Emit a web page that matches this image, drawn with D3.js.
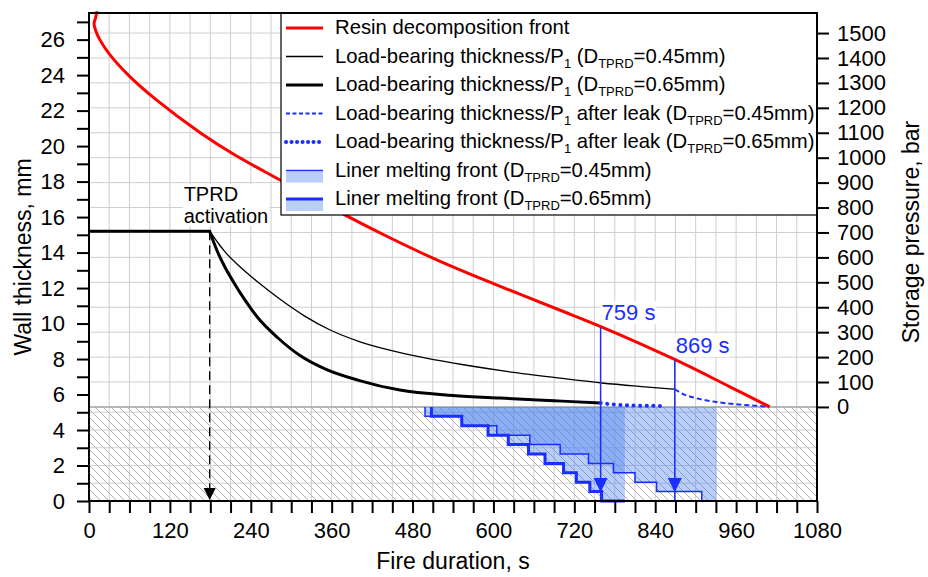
<!DOCTYPE html>
<html>
<head>
<meta charset="utf-8">
<script src="https://cdn.jsdelivr.net/npm/d3@7"></script>
<style>
  body { margin: 0; background: #fff; }
  svg { display: block; font-family: "Liberation Sans", Arial, sans-serif; }
</style>
</head>
<body>
<script>
// ---- data ----
const timeTicks = [0, 120, 240, 360, 480, 600, 720, 840, 960, 1080];
const thicknessTicks = [0, 2, 4, 6, 8, 10, 12, 14, 16, 18, 20, 22, 24, 26];
const pressureTicks = [0, 100, 200, 300, 400, 500, 600, 700, 800, 900, 1000, 1100, 1200, 1300, 1400, 1500];

// [s, mm]
const resinFront = [[12, 27.6], [9.5, 27.2], [7.5, 26.9], [10, 26.5], [16, 26.0], [30, 25.2], [61, 23.9],
  [100, 22.6], [165, 20.75], [214, 19.55], [283, 18.1], [383, 16.05], [447, 14.82], [520, 13.52], [600, 12.25],
  [699, 10.75], [761, 9.8], [872, 7.92], [950, 6.45], [1010, 5.3]];
const bearing045 = [[0, 15.2], [179, 15.2], [190, 14.62], [200, 14.12], [224, 13.2], [250, 12.35], [283, 11.38],
  [320, 10.42], [357, 9.65], [400, 9.0], [446, 8.5], [500, 8.05], [560, 7.65], [630, 7.25], [699, 6.92],
  [761, 6.65], [820, 6.45], [869, 6.3]];
const bearing065 = [[0, 15.2], [179, 15.2], [190, 14.1], [200, 13.3], [215, 12.3], [230, 11.4], [249, 10.4],
  [280, 9.2], [313, 8.2], [350, 7.45], [400, 6.8], [461, 6.25], [540, 5.95], [610, 5.8], [690, 5.65], [759, 5.52]];
const leak045 = [[869, 6.3], [880, 6.05], [900, 5.8], [931, 5.58], [960, 5.45], [995, 5.35], [1005, 5.32]];
const leak065 = [[759, 5.52], [780, 5.43], [810, 5.38], [847, 5.36]];
// liner melting front (steps)
const liner045 = [[498.5, 5.3], [498.5, 4.77], [553, 4.24], [605, 3.71], [654, 3.18], [699, 2.65], [741, 2.12],
  [778, 1.59], [810, 1.06], [842, 0.53], [909, 0], [931, 0]];
const liner065 = [[508, 5.3], [508, 4.77], [553, 4.24], [592, 3.71], [622, 3.18], [652, 2.65], [676.5, 2.12],
  [704, 1.59], [723, 1.06], [743, 0.53], [760.5, 0], [795, 0]];

const tprdTime = 179;
const tprdThickness = 15.2;
const leakTimes = [759, 869];
const leakTops = [9.8, 7.95];
const leakLabels = ["759 s", "869 s"];
const linerThickness = 5.3;       // 0 bar on right axis
const pressureTopThickness = 26.37; // 1500 bar on right axis

const legendLabels = [
  [["Resin decomposition front"]],
  [["Load-bearing thickness/P"], ["1", "sub"], [" (D"], ["TPRD", "sub"], ["=0.45mm)"]],
  [["Load-bearing thickness/P"], ["1", "sub"], [" (D"], ["TPRD", "sub"], ["=0.65mm)"]],
  [["Load-bearing thickness/P"], ["1", "sub"], [" after leak (D"], ["TPRD", "sub"], ["=0.45mm)"]],
  [["Load-bearing thickness/P"], ["1", "sub"], [" after leak (D"], ["TPRD", "sub"], ["=0.65mm)"]],
  [["Liner melting front (D"], ["TPRD", "sub"], ["=0.45mm)"]],
  [["Liner melting front (D"], ["TPRD", "sub"], ["=0.65mm)"]]
];

// ---- layout ----
const width = 928, height = 577;
const plotLeft = 89, plotRight = 817, plotTop = 13, plotBottom = 501;
const blue = "#1a2eff";
const gridColor = "#cfcfcf";

const svg = d3.select("body").append("svg")
  .attr("width", width).attr("height", height)
  .attr("viewBox", `0 0 ${width} ${height}`);

const x = d3.scaleLinear().domain([0, 1080]).range([plotLeft, plotRight]);
const y = d3.scaleLinear().domain([0, 27.5]).range([plotBottom, plotTop]);
const p = d3.scaleLinear().domain([0, 1500]).range([y(linerThickness), y(pressureTopThickness)]);

// hatch pattern
const defs = svg.append("defs");
defs.append("pattern")
  .attr("id", "hatch")
  .attr("patternUnits", "userSpaceOnUse")
  .attr("width", 8).attr("height", 8)
  .append("path")
  .attr("d", "M-2,-2 L10,10 M-2,6 L2,10 M6,-2 L10,2")
  .attr("stroke", "#b0b0b0")
  .attr("stroke-width", 1);

// hatched liner zone
svg.append("rect")
  .attr("x", plotLeft).attr("y", y(linerThickness))
  .attr("width", plotRight - plotLeft).attr("height", plotBottom - y(linerThickness))
  .attr("fill", "url(#hatch)");

// grid
const grid = svg.append("g").attr("stroke", gridColor).attr("stroke-width", 1);
grid.selectAll(".vg")
  .data(d3.range(30, 1080, 30))
  .enter().append("line")
  .attr("x1", d => x(d)).attr("x2", d => x(d))
  .attr("y1", plotTop).attr("y2", plotBottom);
grid.selectAll(".hp")
  .data(pressureTicks.filter(d => d > 0))
  .enter().append("line")
  .attr("x1", plotLeft).attr("x2", plotRight)
  .attr("y1", d => p(d)).attr("y2", d => p(d));
grid.selectAll(".hm")
  .data([1, 2, 3, 4, 5])
  .enter().append("line")
  .attr("x1", plotLeft).attr("x2", plotRight)
  .attr("y1", d => y(d)).attr("y2", d => y(d));

// top of hatch zone
svg.append("line")
  .attr("x1", plotLeft).attr("x2", plotRight)
  .attr("y1", y(linerThickness)).attr("y2", y(linerThickness))
  .attr("stroke", "#a0a0a0").attr("stroke-width", 1.5);

// liner melting fronts
const stepArea = d3.area()
  .curve(d3.curveStepAfter)
  .x(d => x(d[0]))
  .y0(y(linerThickness))
  .y1(d => y(d[1]));
const stepLine = d3.line()
  .curve(d3.curveStepAfter)
  .x(d => x(d[0])).y(d => y(d[1]));

[liner045, liner065].forEach(data => {
  svg.append("path")
    .attr("d", stepArea(data))
    .attr("fill", "rgb(70,125,240)")
    .attr("fill-opacity", 0.38);
});
svg.append("path").attr("d", stepLine(liner045))
  .attr("fill", "none").attr("stroke", blue).attr("stroke-width", 1.5);
svg.append("path").attr("d", stepLine(liner065))
  .attr("fill", "none").attr("stroke", blue).attr("stroke-width", 3);

// curves
const straight = d3.line().x(d => x(d[0])).y(d => y(d[1]));
const smooth = d3.line().curve(d3.curveMonotoneX).x(d => x(d[0])).y(d => y(d[1]));
const smoothRed = d3.line().curve(d3.curveCatmullRom.alpha(0.5)).x(d => x(d[0])).y(d => y(d[1]));

// flat part up to TPRD activation + decay after it (sharp corner at activation)
[[bearing045, 1.3], [bearing065, 3]].forEach(([data, w]) => {
  const k = data.findIndex(d => d[0] === tprdTime);
  svg.append("path")
    .attr("d", straight(data.slice(0, k + 1)) + smooth(data.slice(k)).replace(/^M/, "L"))
    .attr("fill", "none").attr("stroke", "#000").attr("stroke-width", w)
    .attr("stroke-linejoin", "miter");
});
svg.append("path").attr("d", smooth(leak045))
  .attr("fill", "none").attr("stroke", blue).attr("stroke-width", 2)
  .attr("stroke-dasharray", "5,3");
svg.append("path").attr("d", smooth(leak065))
  .attr("fill", "none").attr("stroke", blue).attr("stroke-width", 4)
  .attr("stroke-linecap", "round").attr("stroke-dasharray", "0.1,6.5");
svg.append("path").attr("d", smoothRed(resinFront))
  .attr("fill", "none").attr("stroke", "#ff0000").attr("stroke-width", 3);

// label with white box behind
function boxedText(g, tx, ty, lines, color, size) {
  const t = g.append("text")
    .attr("x", tx).attr("y", ty)
    .attr("fill", color)
    .attr("font-size", size);
  lines.forEach((s, i) => {
    t.append("tspan").attr("x", tx).attr("dy", i === 0 ? 0 : size * 1.1).text(s);
  });
  const b = t.node().getBBox();
  g.insert("rect", "text")
    .attr("x", b.x - 1).attr("y", b.y + 1)
    .attr("width", b.width + 2).attr("height", b.height - 2)
    .attr("fill", "#fff");
}

// TPRD activation arrow
const ann = svg.append("g");
ann.append("line")
  .attr("x1", x(tprdTime)).attr("x2", x(tprdTime))
  .attr("y1", y(tprdThickness)).attr("y2", y(0) - 10)
  .attr("stroke", "#000").attr("stroke-width", 1.3)
  .attr("stroke-dasharray", "9,5");
ann.append("path")
  .attr("d", `M${x(tprdTime) - 6},${y(0) - 13} L${x(tprdTime) + 6},${y(0) - 13} L${x(tprdTime)},${y(0) - 1} Z`)
  .attr("fill", "#000");
const tprdG = svg.append("g");
boxedText(tprdG, x(tprdTime) - 26, 201, ["TPRD", "activation"], "#000", 20);

// leak marks
leakTimes.forEach((t, i) => {
  const g = svg.append("g");
  g.append("line")
    .attr("x1", x(t)).attr("x2", x(t))
    .attr("y1", y(leakTops[i])).attr("y2", y(0))
    .attr("stroke", blue).attr("stroke-width", 1.5);
  g.append("path")
    .attr("d", `M${x(t) - 7},${y(1.3)} L${x(t) + 7},${y(1.3)} L${x(t)},${y(0.5)} Z`)
    .attr("fill", blue);
  boxedText(g, x(t) + 1, y(leakTops[i]) - 7, [leakLabels[i]], blue, 22);
});

// legend
const lg = svg.append("g");
lg.append("rect")
  .attr("x", 281).attr("y", plotTop)
  .attr("width", plotRight - 281).attr("height", 202)
  .attr("fill", "#fff").attr("stroke", "#000").attr("stroke-width", 1.2);
const rowY = i => 27 + i * 28.5;
const sx1 = 286, sx2 = 323;
const sample = (i, color, w, dash, cap) => {
  lg.append("line")
    .attr("x1", sx1).attr("x2", sx2)
    .attr("y1", rowY(i) + 1).attr("y2", rowY(i) + 1)
    .attr("stroke", color).attr("stroke-width", w)
    .attr("stroke-dasharray", dash || null)
    .attr("stroke-linecap", cap || "butt");
};
sample(0, "#ff0000", 3);
sample(1, "#000", 1.3);
sample(2, "#000", 3);
sample(3, blue, 2, "4,2.5");
sample(4, blue, 4, "0.1,5.4", "round");
[5, 6].forEach(i => {
  lg.append("rect")
    .attr("x", sx1).attr("y", rowY(i) + 2)
    .attr("width", sx2 - sx1).attr("height", 11)
    .attr("fill", "rgb(70,125,240)").attr("fill-opacity", 0.38);
});
sample(5, blue, 1.5);
sample(6, blue, 3);

legendLabels.forEach((parts, i) => {
  const t = lg.append("text")
    .attr("x", 335).attr("y", rowY(i) + 7)
    .attr("font-size", 20.3).attr("fill", "#000");
  let shifted = false;
  parts.forEach(([s, kind]) => {
    const ts = t.append("tspan").text(s);
    if (kind === "sub") {
      ts.attr("font-size", 13).attr("dy", 5);
      shifted = true;
    } else if (shifted) {
      ts.attr("dy", -5);
      shifted = false;
    }
  });
});

// axes
const fmtTime = d => timeTicks.includes(d) ? d : "";
const xAxis = d3.axisBottom(x)
  .tickValues(d3.range(0, 1081, 30))
  .tickFormat(fmtTime)
  .tickSize(12).tickSizeOuter(0).tickPadding(9);
const yAxis = d3.axisLeft(y)
  .tickValues(d3.range(0, 28, 1))
  .tickFormat(d => thicknessTicks.includes(d) ? d : "")
  .tickSize(12).tickSizeOuter(0).tickPadding(12);
const pAxis = d3.axisRight(p)
  .tickValues(pressureTicks)
  .tickFormat(d => d)
  .tickSize(12).tickSizeOuter(0).tickPadding(8);

function styleAxis(g) {
  g.select(".domain").remove();
  g.selectAll(".tick line").attr("stroke", "#000").attr("stroke-width", 2);
  g.selectAll(".tick text")
    .attr("font-size", 22)
    .attr("font-family", "'Liberation Sans', Arial, sans-serif")
    .attr("fill", "#000");
}
svg.append("g").attr("transform", `translate(0,${plotBottom})`).call(xAxis).call(styleAxis);
svg.append("g").attr("transform", `translate(${plotLeft},0)`).call(yAxis).call(styleAxis);
svg.append("g").attr("transform", `translate(${plotRight},0)`).call(pAxis).call(styleAxis);

// frame
svg.append("rect")
  .attr("x", plotLeft).attr("y", plotTop)
  .attr("width", plotRight - plotLeft).attr("height", plotBottom - plotTop)
  .attr("fill", "none").attr("stroke", "#000").attr("stroke-width", 2);

// axis titles
svg.append("text")
  .attr("x", (plotLeft + plotRight) / 2).attr("y", 569)
  .attr("text-anchor", "middle").attr("font-size", 23)
  .text("Fire duration, s");
svg.append("text")
  .attr("transform", `translate(31,${(plotTop + plotBottom) / 2}) rotate(-90)`)
  .attr("text-anchor", "middle").attr("font-size", 23)
  .text("Wall thickness, mm");
svg.append("text")
  .attr("transform", `translate(919,${(p(0) + p(1500)) / 2 + 12}) rotate(-90)`)
  .attr("text-anchor", "middle").attr("font-size", 23)
  .text("Storage pressure, bar");
</script>
</body>
</html>
